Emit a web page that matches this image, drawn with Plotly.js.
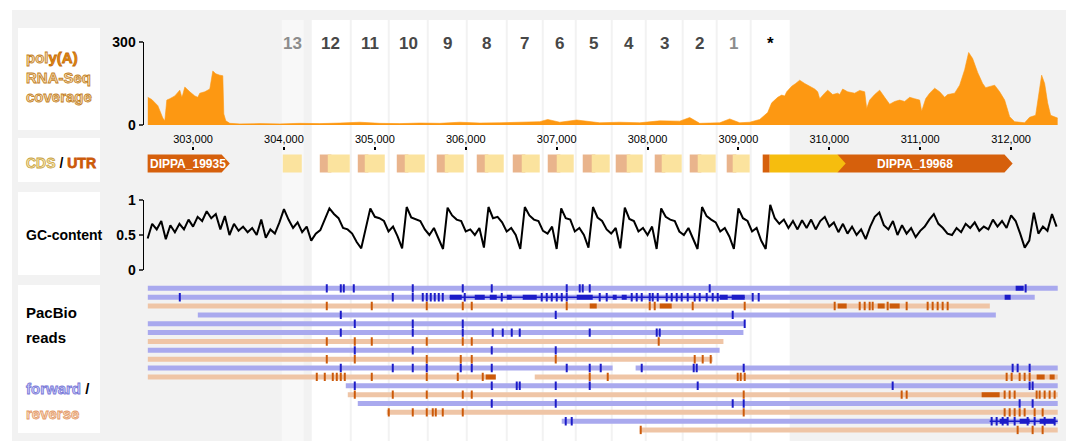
<!DOCTYPE html>
<html><head><meta charset="utf-8">
<script src="https://cdn.plot.ly/plotly-3.0.1.min.js"></script>
<style>html,body{margin:0;padding:0;background:#fff}#chart{width:1066px;height:441px}</style>
</head><body><div id="chart"></div>
<script>
// ---------------- DATA ----------------
// x-axis ticks (genomic position, bp)
const tickPos = [303000,304000,305000,306000,307000,308000,309000,310000,311000,312000];
const tickText = ['303,000','304,000','305,000','306,000','307,000','308,000','309,000','310,000','311,000','312,000'];

// poly(A) RNA-Seq coverage
const covPos = [302502,302546,302612,302667,302689,302711,302744,302799,302854,302876,302887,302909,302964,303019,303052,303074,303129,303184,303217,303250,303294,303327,303338,303360,303404,
 303514,303734,303954,304174,304394,304614,304834,305054,305274,305494,305714,305934,306154,306374,306594,306814,306902,307034,307221,307474,307694,307914,308134,308354,308464,308574,308794,308904,309014,
 309124,309234,309322,309366,309432,309476,309509,309531,309586,309630,309674,309729,309784,309839,309872,309894,309949,309982,310037,310092,310114,310147,310202,310279,310334,310389,310411,310444,310499,310554,310609,310664,310719,310774,310829,310884,310939,310994,311016,311060,311104,311159,311214,311269,311302,311379,311434,311489,311533,311577,311632,311687,311720,311764,311819,311874,311929,311984,312039,312149,312204,312270,312303,312336,312369,312402,312435,312512];
const covVal = [100,92,70,25,15,90,95,105,126,100,110,137,120,105,100,115,120,130,195,185,180,178,40,15,6,
 4,5,4,6,5,7,10,6,5,7,6,10,7,8,10,12,20,10,18,8,10,8,15,14,27,6,8,22,8,
 10,20,45,80,100,108,105,120,140,150,162,150,140,130,120,95,115,126,110,115,110,130,120,115,125,120,60,90,110,126,100,75,85,90,85,100,95,90,50,95,115,133,120,100,110,115,144,200,262,240,190,150,135,140,144,120,90,30,12,8,28,35,110,180,150,80,35,25];

// GC content, 50 bp windows starting at 302,500
const gcStart = 302500;
const gcStep = 50;
const gcVal = [
 0.45,0.66,0.58,0.7,0.44,0.64,0.54,0.66,0.58,0.72,
 0.62,0.76,0.7,0.84,0.74,0.8,0.58,0.77,0.5,0.66,
 0.56,0.62,0.54,0.6,0.5,0.72,0.46,0.58,0.52,0.68,
 0.87,0.72,0.6,0.68,0.54,0.62,0.42,0.52,0.57,0.72,
 0.88,0.8,0.74,0.6,0.58,0.52,0.4,0.31,0.6,
 0.88,0.76,0.74,0.7,0.55,0.62,0.48,0.31,
 0.9,0.75,0.72,0.7,0.58,0.5,0.6,0.45,0.3,
 0.89,0.78,0.72,0.7,0.55,0.58,0.5,0.6,0.32,
 0.9,0.74,0.76,0.68,0.55,0.6,0.5,0.3,
 0.9,0.78,0.72,0.7,0.56,0.52,0.62,0.3,
 0.88,0.74,0.72,0.55,0.6,0.5,0.32,
 0.9,0.75,0.7,0.58,0.52,0.6,0.31,
 0.89,0.73,0.7,0.55,0.6,0.5,0.62,0.3,
 0.88,0.76,0.72,0.7,0.55,0.5,0.6,0.45,0.3,
 0.9,0.77,0.72,0.68,0.55,0.6,0.48,0.3,
 0.88,0.74,0.7,0.55,0.6,0.42,0.3,
 0.93,
 0.74,0.66,0.72,0.6,0.7,0.58,0.71,0.6,0.72,0.58,
 0.7,0.76,0.62,0.68,0.54,0.66,0.52,0.62,0.5,0.58,
 0.44,0.62,0.76,0.82,0.64,0.58,0.7,0.5,0.64,0.52,
 0.6,0.47,0.56,0.62,0.72,0.8,0.66,0.6,0.52,0.5,
 0.6,0.54,0.66,0.6,0.68,0.56,0.62,0.58,0.72,0.62,
 0.7,0.6,0.78,0.7,0.52,0.32,0.42,0.82,0.52,0.62,
 0.56,0.8,0.62];

// repeat units (columns)
const unitLabel = ['13','12','11','10','9','8','7','6','5','4','3','2','1','*'];
const unitStart = [303976,304306,304746,305164,305593,306022,306462,306858,307221,307617,307991,308398,308772,309146];
const unitEnd   = [304218,304724,305142,305571,306000,306440,306836,307199,307595,307969,308376,308750,309124,309564];
// UTR / CDS pieces of each repeat unit (null = none)
const unitUtrStart = [null,304394,304812,305241,305681,306121,306517,306902,307287,307650,308079,308464,308871,null];
const unitCdsStart = [303987,304482,304889,305329,305769,306209,306616,307001,307386,307771,308156,308552,308937,null];
const unitCdsEnd   = [304196,304724,305109,305549,305978,306418,306814,307188,307584,307947,308376,308750,309124,null];

// annotated genes
const geneName   = ['DIPPA_19935','DIPPA_19968'];
const geneStart  = [302500,309267];
const geneCdsStart = [null,309344];
const geneCdsEnd   = [null,310180];
const geneEnd    = [303404,312017];
const geneLabelAt = [302940,310939];

// PacBio reads
const rowStrand = ['+','+','-','+','+','+','-','+','-','+','-','+','-','+','-','+','-'];
const readRow   = [1,2,3,4,5,6,7,8,9,10,10,11,11,12,13,14,15,16,17];
const readStart = [302502,302502,302502,303052,302502,302502,302502,302502,302502,302502,307869,302502,306759,304680,304702,304812,305131,307056,307914];
const readEnd   = [312513,312260,311766,311832,309066,309055,308835,308793,308716,307616,312513,306330,312513,312513,312513,312513,312513,312513,312513];
const markRows = [
 [304471,304625,304658,304768,305417,305967,306286,307111,307254,307287,307364,308684,312160],
 [302854,305197,305417,305527,305571,305615,305659,305703,305747,305989,306396,306836,306891,306946,307001,307056,307111,307474,307551,307826,307881,307936,308024,308057,308112,308211,308266,308321,308376,308442,308519,308574,308651,308717,308772,309157,309223],
 [304471,304966,305571,305967,306066,307111,308024,308079,308497,309069,310059,310334,310389,310444,310477,310642,310851,311082,311137,311192,311247,311302],
 [304625,306990,308937],
 [304779,305417,305967,309069],
 [304625,305417,305967,306297,306407,306506,306594,307364,308101,308134],
 [304471,304779,304966,305571,305967,306066,308123],
 [304779,305417,306286,306990],
 [304471,304779,305571,305945,306066,306990,308519,308607,308695],
 [304625,305197,305417,305571,305945,306066,306286,307111,307364,307485,307936,308508,308541,309058,312017,312072,312204],
 [304361,304449,304537,304581,304625,304669,304966,305571,305912,306187,307364,307562,308992,309025,309069,311951,312006,312094,312149,312204],
 [304779,306286,306561,306594,306990,307364,308552,310697,312204,312237],
 [304779,305197,305571,305967,306066,309058,310796,310851,311929,311984,312039,312281,312314,312369,312424,312479],
 [306286,306990,308937,309058,312094,312237],
 [305153,305417,305571,305637,305670,305747,305967,309058,311929,311984,312039,312094,312149,312259,312347],
 [307100,307166,311786,311841,311907,311962,312039,312182,312259,312369,312479],
 [307925,312072,312237,312347]
];
const blockRow   = [1,2,2,2,2,2,2,2,2,2,2,2,3,3,3,3,3,11,11,11,13,16,16,16];
const blockStart = [312050,305824,306099,306264,306451,306627,307221,307617,307716,308794,308926,311929,307364,308134,310092,310532,310664,306220,312281,312424,311676,311874,312094,312314];
const blockEnd   = [312138,305956,306209,306341,306506,306781,307397,307661,307771,308882,309069,311995,307441,308266,310191,310609,310774,306330,312369,312479,311874,311962,312204,312479];
const indelRow   = [2,16];
const indelStart = [305824,311764];
const indelEnd   = [309069,312512];

// ---------------- STYLE / LAYOUT ----------------
const W = 1066, H = 441;
const fx = v => v / W;
const fy = v => 1 - v / H;
const SANS = '"Liberation Sans",Arial,sans-serif';
const ORANGE = '#fd9812';
const FWD = '#a9a9ee', FWD_D = '#1c1cc8';
const REV = '#efc5a6', REV_D = '#cc5a0a';
const SALMON = '#e9b48c', PALE = '#fbe39e';
const GENE_D = '#d6600c', GENE_C = '#f6bd0e';

const traces = [];
traces.push({x: covPos, y: covVal, xaxis:'x', yaxis:'y', mode:'lines', fill:'tozeroy',
  line:{color:ORANGE, width:0.6}, fillcolor:ORANGE, hoverinfo:'skip'});
traces.push({x0: gcStart, dx: gcStep, y: gcVal, xaxis:'x', yaxis:'y3', mode:'lines',
  line:{color:'#000', width:2}, hoverinfo:'skip'});

function segTrace(rows, starts, ends, strand, color, width) {
  const x = [], y = [];
  for (let i = 0; i < rows.length; i++) {
    if (rowStrand[rows[i]-1] !== strand) continue;
    x.push(starts[i], ends[i], null); y.push(rows[i], rows[i], null);
  }
  return {x, y, xaxis:'x', yaxis:'y4', mode:'lines', line:{color, width}, hoverinfo:'skip'};
}
traces.push(segTrace(readRow, readStart, readEnd, '+', FWD, 5));
traces.push(segTrace(readRow, readStart, readEnd, '-', REV, 5));
traces.push(segTrace(indelRow, indelStart, indelEnd, '+', FWD_D, 1.5));
traces.push(segTrace(indelRow, indelStart, indelEnd, '-', REV_D, 1.5));
traces.push(segTrace(blockRow, blockStart, blockEnd, '+', FWD_D, 5));
traces.push(segTrace(blockRow, blockStart, blockEnd, '-', REV_D, 5));
['+','-'].forEach(s => {
  const x = [], y = [];
  markRows.forEach((list, r) => { if (rowStrand[r] === s) list.forEach(p => { x.push(p); y.push(r+1); }); });
  traces.push({x, y, xaxis:'x', yaxis:'y4', mode:'markers', hoverinfo:'skip',
    marker:{symbol:'line-ns', size:6, line:{width:2, color: s==='+'?FWD_D:REV_D}}});
});

const shapes = [];
// background panel
shapes.push({type:'rect', xref:'paper', yref:'paper', x0:fx(12), x1:1, y0:0, y1:fy(10), fillcolor:'#f2f2f2', line:{width:0}, layer:'below'});
// label boxes
[[28,130],[138,182],[192,275],[285,433]].forEach(b => shapes.push({type:'rect', xref:'paper', yref:'paper',
  x0:fx(18), x1:fx(100), y0:fy(b[1]), y1:fy(b[0]), fillcolor:'#fff', line:{width:0}, layer:'below'}));
// repeat columns
unitLabel.forEach((l, i) => shapes.push({type:'rect', xref:'x', yref:'paper', x0:unitStart[i], x1:unitEnd[i],
  y0:0, y1:fy(20), fillcolor: l==='13' ? 'rgba(255,255,255,0.45)' : '#fff', line:{width:0}, layer:'below'}));
// CDS / UTR blocks of repeat units
const Y0 = 0.14, Y1 = 0.86;
unitLabel.forEach((l, i) => {
  if (unitUtrStart[i] !== null) shapes.push({type:'rect', xref:'x', yref:'y2', x0:unitUtrStart[i], x1:unitCdsStart[i]+40, y0:Y0, y1:Y1, fillcolor:SALMON, line:{width:0}});
  if (unitCdsStart[i] !== null) shapes.push({type:'rect', xref:'x', yref:'y2', x0:unitCdsStart[i], x1:unitCdsEnd[i], y0:Y0, y1:Y1, fillcolor:PALE, line:{width:0}});
});
// genes
const HEAD = 90;
function arrowPath(s, e) {
  return `M${s},${Y0} L${e-HEAD},${Y0} L${e},0.5 L${e-HEAD},${Y1} L${s},${Y1} Z`;
}
geneName.forEach((g, i) => {
  const darkStart = geneCdsEnd[i] !== null ? geneCdsEnd[i] - HEAD : geneStart[i];
  shapes.push({type:'path', xref:'x', yref:'y2', path: arrowPath(darkStart, geneEnd[i]), fillcolor:GENE_D, line:{width:0}});
  if (geneCdsStart[i] !== null) {
    shapes.push({type:'rect', xref:'x', yref:'y2', x0:geneStart[i], x1:geneCdsStart[i], y0:Y0, y1:Y1, fillcolor:GENE_D, line:{width:0}});
    shapes.push({type:'path', xref:'x', yref:'y2', path: arrowPath(geneCdsStart[i], geneCdsEnd[i]), fillcolor:GENE_C, line:{width:0}});
  }
});

const annotations = [];
geneName.forEach((g, i) => annotations.push({xref:'x', yref:'y2', x:geneLabelAt[i], y:0.5, text:g, showarrow:false,
  font:{family:SANS, size:12, color:'#fff', weight:700}}));
unitLabel.forEach((l, i) => annotations.push({xref:'x', yref:'paper', x:(unitStart[i]+unitEnd[i])/2, y:fy(32), text:l, showarrow:false,
  font:{family:SANS, size:17, weight:700, color: l==='*' ? '#000' : (l==='13'||l==='1') ? '#8c8c8c' : '#474747'}}));
const ol = (t, fill, stroke) => `<span style="fill:${fill};stroke:${stroke};stroke-width:0.8px">${t}</span>`;
const sideLabels = [
  [57, ol('pol','#f8dcb2','#c2801e') + ol('y(A)','#e98a12','#c46d08'), 15],
  [77, ol('RNA-Seq','#f8dcb2','#c2801e'), 15],
  [97, ol('coverage','#f8dcb2','#c2801e'), 15],
  [163, ol('CDS','#fbecb4','#c7a040') + ' / ' + ol('UTR','#cc5a0a','#cc5a0a'), 14],
  [235, 'GC-content', 14],
  [312, 'PacBio', 15],
  [337, 'reads', 15],
  [388, ol('forward','#c8c8f8','#7777d6') + ' /', 15],
  [413, ol('reverse','#f9dcc6','#e39966'), 15]
];
sideLabels.forEach(s => annotations.push({xref:'paper', yref:'paper', x:fx(24), y:fy(s[0]), xanchor:'left', yanchor:'middle',
  text:s[1], showarrow:false, font:{family:SANS, size:s[2], color:'#000', weight:700}}));

const tickFontY = {family:SANS, size:14, color:'#000', weight:700};
const layout = {
  width:W, height:H, margin:{l:0, r:0, t:0, b:0},
  paper_bgcolor:'#fff', plot_bgcolor:'rgba(0,0,0,0)', showlegend:false,
  xaxis:{domain:[fx(144), fx(1062)], range:[302460, 312560], anchor:'y2', side:'top',
    tickvals:tickPos, ticktext:tickText, ticks:'outside', ticklen:3, tickwidth:2, tickcolor:'#000',
    showline:false, showgrid:false, zeroline:false, tickfont:{family:SANS, size:11, color:'#000'}, fixedrange:true},
  yaxis:{domain:[fy(125), fy(42)], range:[0,300], anchor:'x', showline:true, linecolor:'#000', linewidth:1.5,
    ticks:'outside', ticklen:4, tickwidth:1.5, tickvals:[0,300], ticktext:['0','300'], tickfont:tickFontY,
    showgrid:false, zeroline:false, fixedrange:true},
  yaxis2:{domain:[fy(176), fy(151)], range:[0,1], anchor:'x', visible:false, fixedrange:true},
  yaxis3:{domain:[fy(270), fy(200)], range:[0,1], anchor:'x', showline:true, linecolor:'#000', linewidth:1.5,
    ticks:'outside', ticklen:4, tickwidth:1.5, tickvals:[0,0.5,1], ticktext:['0','0.5','1'], tickfont:tickFontY,
    showgrid:false, zeroline:false, fixedrange:true},
  yaxis4:{domain:[fy(434.5), fy(283.9)], range:[17.5,0.5], anchor:'x', visible:false, fixedrange:true},
  shapes, annotations
};
Plotly.newPlot('chart', traces, layout, {displayModeBar:false, staticPlot:true});
</script></body></html>
